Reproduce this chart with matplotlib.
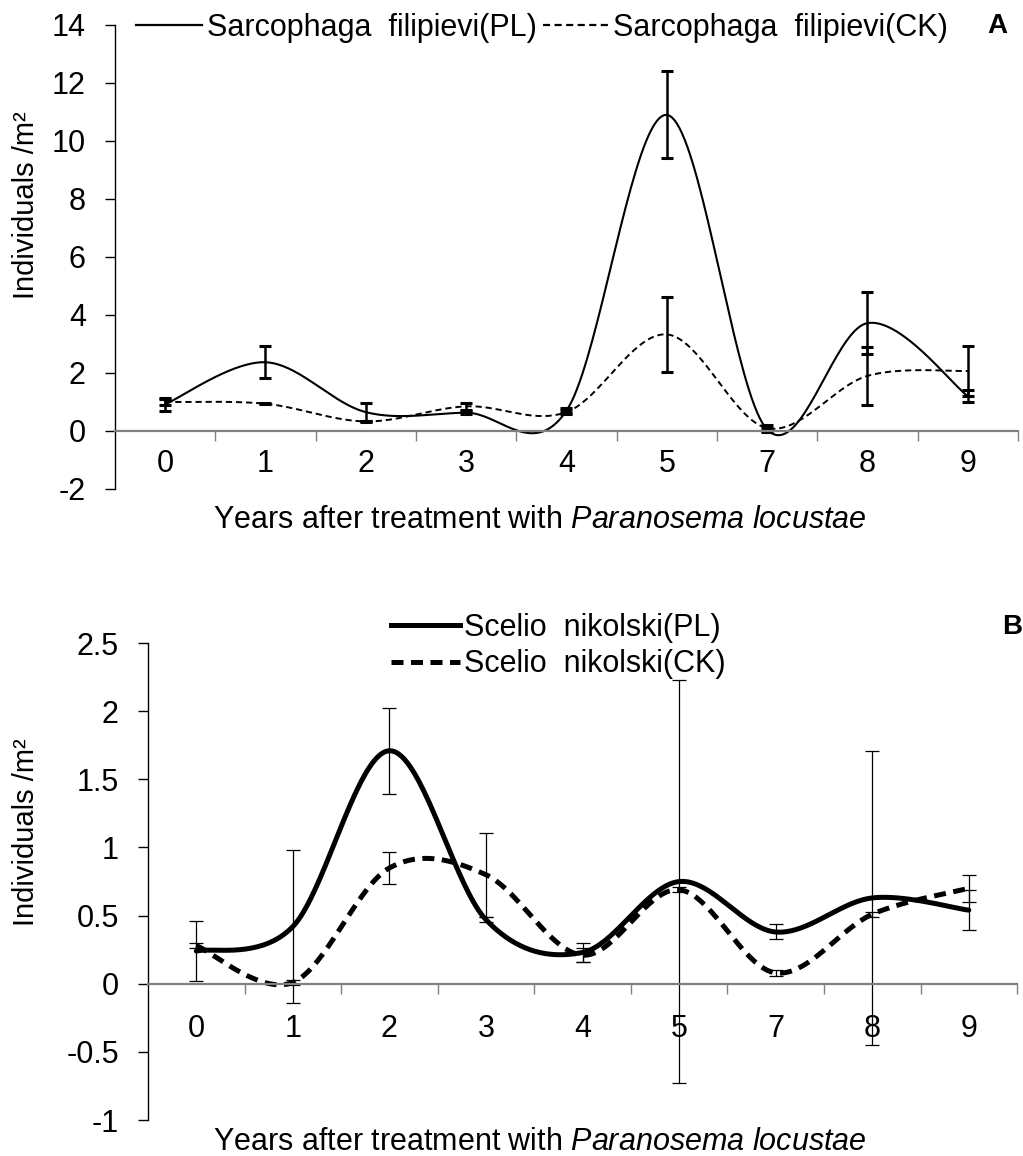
import matplotlib
matplotlib.use("Agg")
import matplotlib.pyplot as plt
from matplotlib.lines import Line2D
import numpy as np

plt.rcParams['font.family'] = ['Liberation Sans', 'DejaVu Sans']
plt.rcParams['mathtext.fontset'] = 'custom'
plt.rcParams['mathtext.rm'] = 'Liberation Sans'
plt.rcParams['mathtext.it'] = 'Liberation Sans:italic'

# data
years = ["0", "1", "2", "3", "4", "5", "7", "8", "9"]

sarco_pl = [0.92, 2.37, 0.65, 0.63, 0.70, 10.9, 0.05, 3.72, 1.20]
sarco_pl_err = [0.22, 0.55, 0.32, 0.05, 0.08, 1.50, 0.05, 1.06, 0.20]
sarco_ck = [1.00, 0.94, 0.33, 0.85, 0.65, 3.33, 0.10, 1.90, 2.07]
sarco_ck_err = [0.10, 0.02, 0.03, 0.12, 0.08, 1.30, 0.12, 1.00, 0.85]

scelio_pl = [0.24, 0.42, 1.71, 0.47, 0.23, 0.75, 0.38, 0.63, 0.54]
scelio_pl_err = [0.22, 0.56, 0.315, 0.02, 0.07, 1.48, 0.055, 1.08, 0.145]
scelio_ck = [0.28, 0.01, 0.85, 0.80, 0.21, 0.69, 0.08, 0.51, 0.70]
scelio_ck_err = [0.02, 0.02, 0.12, 0.31, 0.05, 0.02, 0.02, 0.02, 0.10]

XLABEL = r"Years after treatment with $\it{Paranosema\ locustae}$"
YLABEL = "Individuals /m²"
FS = 22


def smooth(y, n=40):
    # excel-like smoothed line: cubic bezier with catmull-rom control points
    y = np.asarray(y, dtype=float)
    x = np.arange(len(y), dtype=float)
    pts = np.column_stack([x, y])
    out = [pts[:1]]
    t = np.linspace(0, 1, n)[1:, None]
    for i in range(len(pts) - 1):
        p0 = pts[max(i - 1, 0)]
        p1 = pts[i]
        p2 = pts[i + 1]
        p3 = pts[min(i + 2, len(pts) - 1)]
        c1 = p1 + (p2 - p0) / 6.0
        c2 = p2 - (p3 - p1) / 6.0
        seg = ((1 - t) ** 3) * p1 + 3 * ((1 - t) ** 2) * t * c1 + 3 * (1 - t) * t ** 2 * c2 + t ** 3 * p2
        out.append(seg)
    out = np.vstack(out)
    return out[:, 0], out[:, 1]


def style_axes(ax, ylim, yticks, xpad):
    ax.set_xlim(-0.5, len(years) - 0.5)
    ax.set_ylim(*ylim)
    ax.set_yticks(yticks)
    ax.set_yticklabels([("%g" % v) for v in yticks])
    ax.spines['top'].set_visible(False)
    ax.spines['right'].set_visible(False)
    ax.spines['left'].set_color('black')
    ax.spines['left'].set_linewidth(1.0)
    ax.spines['bottom'].set_position(('data', 0))
    ax.spines['bottom'].set_color('#808080')
    ax.spines['bottom'].set_linewidth(1.6)
    ax.set_xticks(range(len(years)))
    ax.set_xticklabels(years)
    ax.set_xticks(np.arange(0.5, len(years), 1.0), minor=True)
    ax.tick_params(axis='x', which='major', length=0, pad=xpad, labelsize=FS)
    ax.tick_params(axis='x', which='minor', length=7, width=1.0, color='#808080', direction='out')
    ax.tick_params(axis='y', length=7, width=1.0, color='black', direction='out', pad=14, labelsize=FS)


fig = plt.figure(figsize=(10.23, 11.56), dpi=100)

# ---- panel A ----
axA = fig.add_axes([0.1124, 0.577, 0.8827, 0.4014])
style_axes(axA, (-2, 14), np.arange(-2, 15, 2), 13)
xs = np.arange(len(years))
sx, sy = smooth(sarco_pl)
axA.plot(sx, sy, color='black', lw=1.5, solid_capstyle='butt')
sx, sy = smooth(sarco_ck)
axA.plot(sx, sy, color='black', lw=1.4, ls=(0, (3.2, 2.0)))
axA.errorbar(xs, sarco_pl, yerr=sarco_pl_err, fmt='none', ecolor='black', elinewidth=1.8, capsize=4, capthick=2.2)
axA.errorbar(xs, sarco_ck, yerr=sarco_ck_err, fmt='none', ecolor='black', elinewidth=1.8, capsize=4, capthick=2.2)

hA = [Line2D([], [], color='black', lw=1.6),
      Line2D([], [], color='black', lw=1.6, ls=(0, (3.2, 2.0)))]
fig.legend(hA, ["Sarcophaga  filipievi(PL)", "Sarcophaga  filipievi(CK)"], ncol=2,
           loc='center', bbox_to_anchor=(0.53, 0.976), frameon=False, fontsize=FS,
           handlelength=2.15, handletextpad=0.15, columnspacing=0.2, borderpad=0, borderaxespad=0)
fig.text(997 / 1023, 1 - 26 / 1156, "A", fontsize=20, fontweight='bold', ha='center', va='center')
fig.text(26 / 1023, 1 - 205 / 1156, YLABEL, rotation=90, fontsize=21, ha='center', va='center')
fig.text(540 / 1023, 1 - 520 / 1156, XLABEL, fontsize=FS, ha='center', va='center')

# ---- panel B ----
axB = fig.add_axes([0.1447, 0.0311, 0.8495, 0.4126])
style_axes(axB, (-1, 2.5), np.arange(-1, 2.51, 0.5), 22)
sx, sy = smooth(scelio_pl)
axB.plot(sx, sy, color='black', lw=3.6, solid_capstyle='round')
sx, sy = smooth(scelio_ck)
axB.plot(sx, sy, color='black', lw=3.6, ls=(0, (2.4, 1.5)))
axB.errorbar(xs, scelio_pl, yerr=scelio_pl_err, fmt='none', ecolor='black', elinewidth=0.9, capsize=5, capthick=0.9)
axB.errorbar(xs, scelio_ck, yerr=scelio_ck_err, fmt='none', ecolor='black', elinewidth=0.9, capsize=5, capthick=0.9)

hB = [Line2D([], [], color='black', lw=3.6),
      Line2D([], [], color='black', lw=3.6, ls=(0, (2.4, 1.5)))]
fig.legend(hB, ["Scelio  nikolski(PL)", "Scelio  nikolski(CK)"], ncol=1,
           loc='center', bbox_to_anchor=(0.546, 0.441), frameon=False, fontsize=FS,
           handlelength=2.25, handletextpad=0.15, labelspacing=0.2, borderpad=0, borderaxespad=0)
fig.text(1012 / 1023, 1 - 627 / 1156, "B", fontsize=20, fontweight='bold', ha='center', va='center')
fig.text(26 / 1023, 1 - 832 / 1156, YLABEL, rotation=90, fontsize=21, ha='center', va='center')
fig.text(540 / 1023, 1 - 1142 / 1156, XLABEL, fontsize=FS, ha='center', va='center')

fig.savefig("out.png", dpi=100)
